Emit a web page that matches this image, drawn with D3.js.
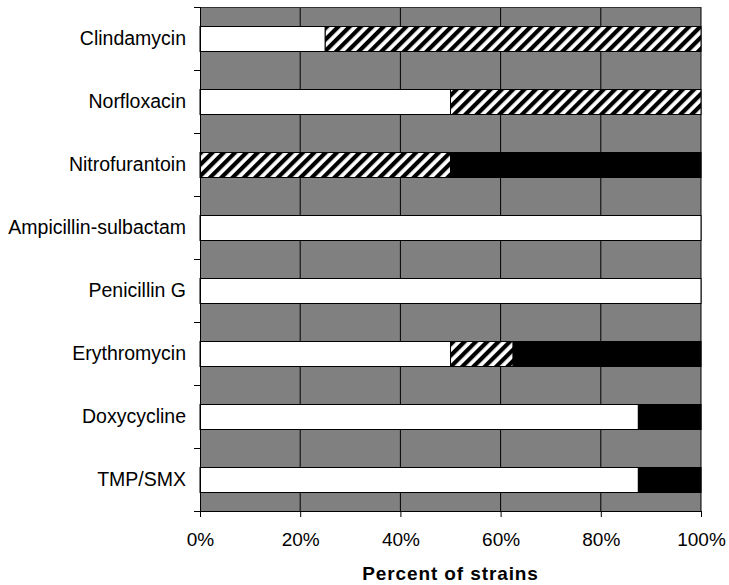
<!DOCTYPE html>
<html>
<head>
<meta charset="utf-8">
<script src="https://cdn.jsdelivr.net/npm/d3@7"></script>
<style>
  html, body { margin: 0; padding: 0; background: #fff; }
  svg { display: block; font-family: "Liberation Sans", Arial, sans-serif; }
</style>
</head>
<body>
<svg id="chart" width="729" height="585"></svg>
<script>
const categories = ["Clindamycin", "Norfloxacin", "Nitrofurantoin", "Ampicillin-sulbactam",
                    "Penicillin G", "Erythromycin", "Doxycycline", "TMP/SMX"];
const whiteValues  = [25, 50, 0, 100, 100, 50, 87.5, 87.5];
const hatchValues  = [75, 50, 50, 0, 0, 12.5, 0, 0];
const blackValues  = [0, 0, 50, 0, 0, 37.5, 12.5, 12.5];
const xTicks = [0, 20, 40, 60, 80, 100];
const xTitle = "Percent of strains";

const svg = d3.select("#chart");
const margin = {left: 200, right: 28, top: 7, bottom: 74};
const W = 729, H = 585;
const x = d3.scaleLinear().domain([0, 100]).range([margin.left, W - margin.right]);
const y = d3.scaleBand().domain(categories).range([margin.top, H - margin.bottom]).paddingInner(0.6).paddingOuter(0.3);

const defs = svg.append("defs");
const pat = defs.append("pattern").attr("id", "hatch").attr("patternUnits", "userSpaceOnUse")
  .attr("width", 8).attr("height", 8).attr("patternTransform", "rotate(45)");
pat.append("rect").attr("width", 8).attr("height", 8).attr("fill", "#fff");
pat.append("rect").attr("x", 0).attr("width", 4.2).attr("height", 8).attr("fill", "#000");

// plot area
svg.append("rect").attr("x", x(0)).attr("y", margin.top)
  .attr("width", x(100) - x(0)).attr("height", H - margin.bottom - margin.top)
  .attr("fill", "#808080");

// gridlines
svg.append("g").selectAll("line").data(xTicks.slice(1)).join("line")
  .attr("x1", d => x(d)).attr("x2", d => x(d))
  .attr("y1", margin.top).attr("y2", H - margin.bottom)
  .attr("stroke", "#000").attr("stroke-width", 1);
svg.append("line").attr("x1", x(0)).attr("x2", x(100)).attr("y1", margin.top + 0.5).attr("y2", margin.top + 0.5)
  .attr("stroke", "#333").attr("stroke-width", 1);

// stacked bars
const rows = categories.map((c, i) => ({cat: c, white: whiteValues[i], hatch: hatchValues[i], black: blackValues[i]}));
const stack = d3.stack().keys(["white", "hatch", "black"])(rows);
const fills = {white: "#fff", hatch: "url(#hatch)", black: "#000"};
svg.append("g").selectAll("g").data(stack).join("g")
  .attr("fill", d => fills[d.key])
  .selectAll("rect").data(d => d.filter(s => s[1] - s[0] > 0)).join("rect")
  .attr("x", d => x(d[0])).attr("width", d => x(d[1]) - x(d[0]))
  .attr("y", d => Math.round(y(d.data.cat)) + 0.5).attr("height", Math.round(y.bandwidth()))
  .attr("stroke", "#000").attr("stroke-width", 1);

// x axis
const xAxis = svg.append("g").attr("transform", `translate(0,${H - margin.bottom})`)
  .call(d3.axisBottom(x).tickValues(xTicks).tickFormat(d => d + "%").tickSizeOuter(0).tickSize(6).tickPadding(16));
xAxis.selectAll("text").attr("font-size", 19).attr("fill", "#000").attr("font-family", "Liberation Sans, Arial, sans-serif");
xAxis.selectAll("line, path").attr("stroke", "#000");

// y axis with ticks at category boundaries
const yAxisG = svg.append("g");
yAxisG.append("line").attr("x1", x(0) + 0.5).attr("x2", x(0) + 0.5)
  .attr("y1", margin.top).attr("y2", H - margin.bottom).attr("stroke", "#000");
const boundaries = d3.range(categories.length + 1).map(i => margin.top + i * (H - margin.bottom - margin.top) / categories.length);
yAxisG.selectAll(".tk").data(boundaries).join("line")
  .attr("x1", x(0) - 6).attr("x2", x(0))
  .attr("y1", d => Math.round(d) + 0.5).attr("y2", d => Math.round(d) + 0.5).attr("stroke", "#000");
yAxisG.selectAll("text").data(categories).join("text")
  .attr("x", x(0) - 14).attr("y", d => y(d) + y.bandwidth() / 2)
  .attr("dy", "0.35em").attr("text-anchor", "end")
  .attr("font-size", 19.5).attr("fill", "#000").text(d => d);

// title
svg.append("text").attr("x", (x(0) + x(100)) / 2).attr("y", 580)
  .attr("text-anchor", "middle").attr("font-size", 19).attr("font-weight", "bold")
  .attr("letter-spacing", "0.9px")
  .attr("fill", "#000").text(xTitle);
</script>
</body>
</html>
